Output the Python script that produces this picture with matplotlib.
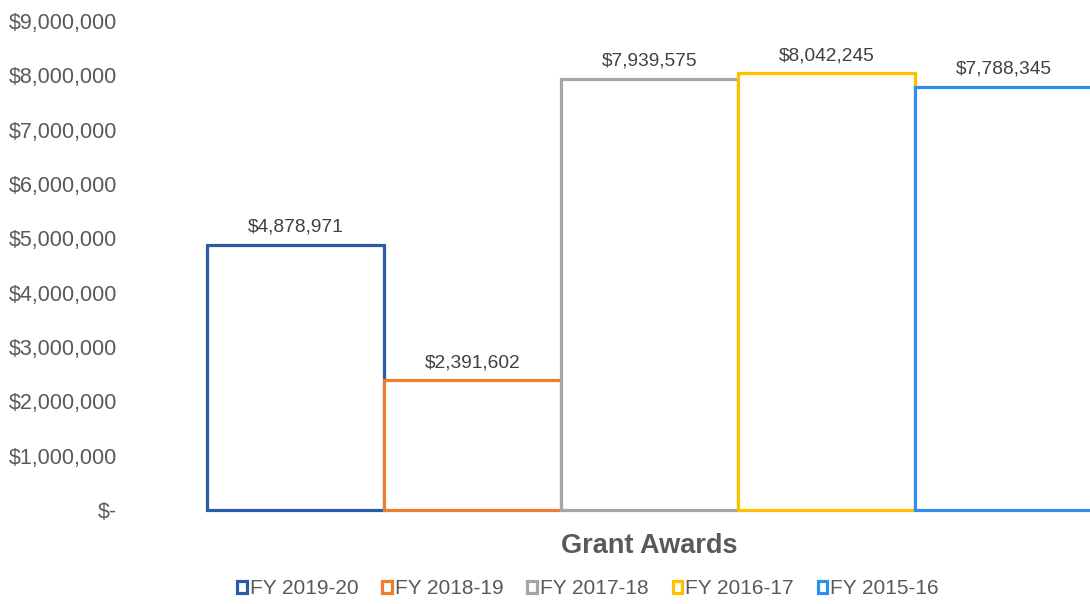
import matplotlib
matplotlib.use("Agg")
import matplotlib.pyplot as plt
from matplotlib.patches import Patch
from matplotlib.ticker import FuncFormatter

series = ["FY 2019-20", "FY 2018-19", "FY 2017-18", "FY 2016-17", "FY 2015-16"]
values = [4878971, 2391602, 7939575, 8042245, 7788345]
colors = ["#2B5BA8", "#ED7D31", "#A5A5A5", "#FFC000", "#2E90EA"]
category = "Grant Awards"
yticks = [0, 1000000, 2000000, 3000000, 4000000, 5000000, 6000000, 7000000, 8000000, 9000000]

plt.rcParams['font.family'] = ['Liberation Sans', 'DejaVu Sans']

W, H = 1090, 604
fig = plt.figure(figsize=(W / 100, H / 100), dpi=100)
left_px, right_px = 130, 1090
bottom_px, top_px = 510, 21
ax = fig.add_axes([left_px / W, 1 - bottom_px / H, (right_px - left_px) / W, (bottom_px - top_px) / H])

bar_w = 1.0
for i, (s, v, c) in enumerate(zip(series, values, colors)):
    ax.bar(i, v, width=bar_w, align='edge', facecolor='white', edgecolor=c,
           linewidth=2.3, label=s, clip_on=False)
    ax.annotate(f"${v:,.0f}", xy=(i + bar_w / 2, v), xytext=(0, 6.5),
                textcoords='offset points', ha='center', va='bottom',
                fontsize=13.8, color='#404040')

# pixel mapping: bar0 left at 207px, bar width 177px
x0 = (left_px - 207) / 177
x1 = (right_px - 207) / 177
ax.set_xlim(x0, x1)
ax.set_ylim(0, 9000000)
ax.set_yticks(yticks)
ax.yaxis.set_major_formatter(FuncFormatter(lambda v, p: "$-" if v == 0 else f"${v:,.0f}"))
ax.tick_params(axis='y', length=0, pad=9.5, labelsize=15.5, labelcolor='#595959')
ax.set_xticks([])
for sp in ax.spines.values():
    sp.set_visible(False)

ax.text(2.5, -0.074, category, transform=ax.get_xaxis_transform(), ha='center', va='center',
        fontsize=19.5, fontweight='bold', color='#595959')

handles = [Patch(facecolor='white', edgecolor=c, linewidth=2.3) for c in colors]
fig.legend(handles, series, loc='center', bbox_to_anchor=(588 / W, 1 - 589 / H), ncol=5,
           frameon=False, fontsize=15, labelcolor='#595959', handlelength=0.45, handleheight=0.45,
           handletextpad=0.15, columnspacing=1.15)

fig.savefig("out.png", dpi=100)
